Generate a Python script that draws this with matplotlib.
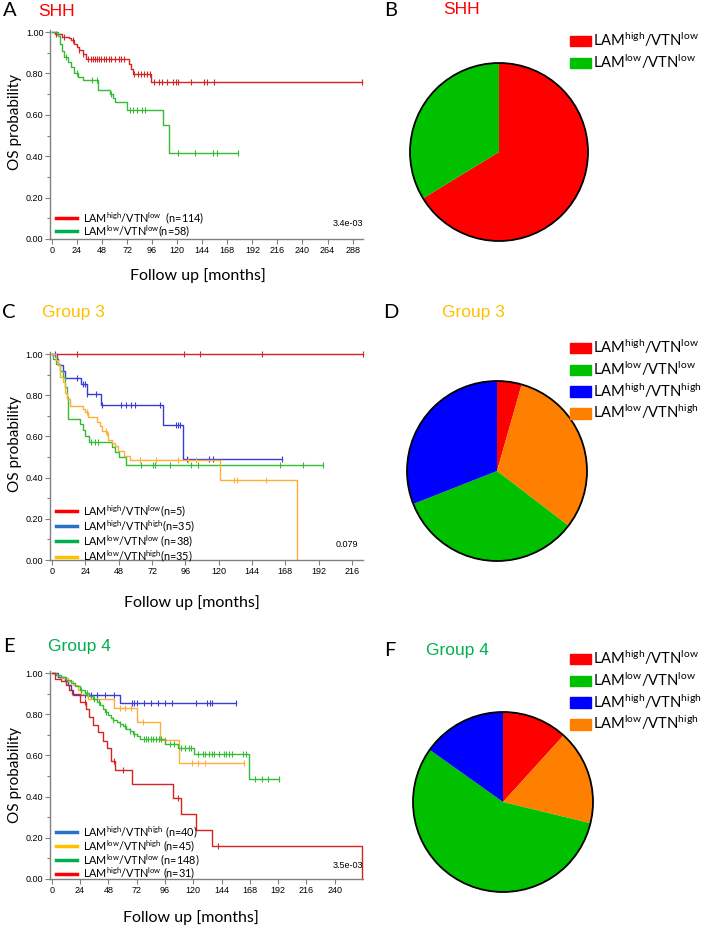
import numpy as np
import matplotlib
matplotlib.use("Agg")
import matplotlib.pyplot as plt
from matplotlib.lines import Line2D
from matplotlib.patches import Patch, Circle

plt.rcParams['mathtext.default'] = 'regular'

W, H = 709, 927
SANS = 'Lato'

# ---------------- data ----------------
# panel A (SHH)
shh_red_t = [3, 10, 16, 18, 21, 23.6, 25.8, 30, 32.6, 73.5, 75.5, 77.2, 94.5]
shh_red_s = [0.99, 0.977, 0.97, 0.96, 0.944, 0.928, 0.912, 0.893, 0.871, 0.845, 0.82, 0.796, 0.758]
shh_red_end = 297
shh_red_cens = [4, 12, 20, 26, 30, 35, 37, 39, 41, 43, 45, 47, 50, 52, 55, 57, 60, 64, 66, 69,
                79, 82, 85, 88, 91, 94, 98, 103, 105, 110, 116, 119, 121, 133, 146, 149, 155, 297]
shh_green_t = [5.5, 8, 10, 12, 15, 18.5, 21.5, 24.5, 29.5, 44.5, 56, 58, 60, 71.5, 106, 112.5]
shh_green_s = [0.98, 0.94, 0.91, 0.88, 0.855, 0.83, 0.80, 0.785, 0.767, 0.72, 0.70, 0.68, 0.662, 0.625, 0.553, 0.415]
shh_green_end = 178.5
shh_green_cens = [13, 24, 38, 43, 57, 75, 78, 81, 86, 89, 121, 137, 154, 158, 178.5]

# panel C (Group 3)
g3_red_t = []
g3_red_s = []
g3_red_end = 224
g3_red_cens = [18, 95, 106.5, 151, 224]
g3_blue_t = [3.5, 4.6, 7.7, 9.4, 20.6, 25, 35.3, 79.7, 94.5]
g3_blue_s = [0.976, 0.947, 0.92, 0.886, 0.857, 0.805, 0.752, 0.657, 0.492]
g3_blue_end = 166
g3_blue_cens = [2, 18, 22, 24, 25, 32, 36, 50, 53, 57, 60, 78, 89, 91, 92, 97, 113, 116, 166]
g3_green_t = [1, 3, 6, 8, 9.5, 10.5, 11.8, 20, 22, 23.5, 26.5, 43.5, 45.5, 48, 53]
g3_green_s = [0.974, 0.95, 0.92, 0.89, 0.84, 0.79, 0.686, 0.66, 0.63, 0.60, 0.575, 0.55, 0.525, 0.50, 0.463]
g3_green_end = 195
g3_green_cens = [28, 31, 33, 64, 73, 74, 85, 100, 105, 164, 181, 195]
g3_orange_t = [2.8, 4.5, 6, 7.7, 9.4, 11, 13, 22, 24, 25.6, 32.2, 34.6, 35.8, 39.4, 40.6, 43,
               45.4, 47.8, 52, 56, 121, 176.5]
g3_orange_s = [0.972, 0.945, 0.89, 0.865, 0.81, 0.78, 0.75, 0.735, 0.72, 0.695, 0.672, 0.65, 0.625,
               0.608, 0.585, 0.57, 0.553, 0.528, 0.505, 0.486, 0.389, 0.0]
g3_orange_end = 176.5
g3_orange_cens = [25, 39, 40, 63, 75, 91, 98, 104, 131, 133, 154]

# panel E (Group 4)
g4_blue_t = [5, 11, 14, 16, 18, 57.5]
g4_blue_s = [0.98, 0.96, 0.94, 0.92, 0.895, 0.856]
g4_blue_end = 156
g4_blue_cens = [28, 33, 38, 45, 53, 68, 70, 72, 78, 84, 90, 96, 102, 122, 132, 134, 136, 156]
g4_orange_t = [4, 8, 14, 18, 22, 25, 30.8, 52.8, 72.4, 92.2, 108]
g4_orange_s = [0.99, 0.975, 0.96, 0.94, 0.92, 0.90, 0.875, 0.832, 0.76, 0.675, 0.565]
g4_orange_end = 163
g4_orange_cens = [58, 62, 67, 77, 96, 119, 124, 130, 163]
g4_green_t = [4, 8, 12, 16, 20, 24, 28, 32, 35, 38, 41, 43.5, 45.5, 47.5, 50, 52, 55, 57.5, 60,
              63, 66, 69, 72, 75, 95.8, 107, 120.5, 167]
g4_green_s = [0.99, 0.98, 0.965, 0.95, 0.935, 0.92, 0.905, 0.89, 0.875, 0.86, 0.845, 0.827, 0.81,
              0.795, 0.78, 0.77, 0.76, 0.753, 0.745, 0.73, 0.72, 0.705, 0.695, 0.68, 0.656, 0.634,
              0.605, 0.485]
g4_green_end = 193
g4_green_cens = [25, 30, 36, 40, 46, 52, 58, 62, 66, 70, 78, 80, 82, 84, 86, 88, 91, 93, 100, 104,
                 110, 113, 116, 118, 124, 128, 130, 133, 136, 138, 142, 146, 148, 150, 153, 162,
                 165, 172, 178, 183, 193]
g4_red_t = [3, 8, 12, 15, 17, 24.3, 28.8, 31.7, 35, 38.8, 43.5, 47, 50.6, 53.4, 68.2, 102.7,
            110, 122, 136, 263.5]
g4_red_s = [0.97, 0.96, 0.94, 0.92, 0.90, 0.86, 0.827, 0.787, 0.746, 0.713, 0.672, 0.635, 0.575,
            0.53, 0.463, 0.395, 0.317, 0.239, 0.158, 0.0]
g4_red_end = 263.5
g4_red_cens = [28, 53, 60, 107, 141]

# group sizes (used for legends and pies)
shh_n = [114, 58]
g3_n = [5, 35, 38, 35]      # hi/lo, hi/hi, lo/lo, lo/hi
g4_n = [40, 45, 148, 31]    # hi/hi, lo/hi, lo/lo, hi/lo

p_values = ['3.4e-03', '0.079', '3.5e-03']

HL = r'LAM$^{high}$/VTN$^{low}$'
LL = r'LAM$^{low}$/VTN$^{low}$'
HH = r'LAM$^{high}$/VTN$^{high}$'
LH = r'LAM$^{low}$/VTN$^{high}$'

# colours
c_red, c_green, c_blue, c_orange = '#D42424', '#35BB35', '#3A3AD8', '#FFAE3A'
l_red, l_green, l_blue, l_orange = '#FF0000', '#00B050', '#2A72C8', '#FFC000'
p_red, p_green, p_blue, p_orange = '#FF0000', '#00C000', '#0000FF', '#FF8000'

fig = plt.figure(figsize=(W / 100, H / 100), dpi=100)


def px_axes(left, top, right, bottom):
    return fig.add_axes([left / W, 1 - bottom / H, (right - left) / W, (bottom - top) / H])


def km(ax, t, s, end, cens, color):
    tt = [0] + list(t) + [end]
    ss = [1.0] + list(s) + [s[-1] if len(s) else 1.0]
    ax.step(tt, ss, where='post', color=color, lw=1.0, clip_on=False)
    tt = np.array(tt)
    ss = np.array(ss)
    idx = np.searchsorted(tt, cens, side='right') - 1
    ax.plot(cens, ss[idx], ls='none', marker='|', ms=4, mew=0.8, color=color, clip_on=False)


def style_km(ax, xmax, xticks):
    ax.set_xlim(-1.5, xmax)
    ax.set_ylim(0, 1.01)
    for sp in ['top', 'right']:
        ax.spines[sp].set_visible(False)
    for sp in ['left', 'bottom']:
        ax.spines[sp].set_color('#808080')
        ax.spines[sp].set_linewidth(1.0)
    ax.set_xticks(xticks)
    ax.set_yticks([0, 0.2, 0.4, 0.6, 0.8, 1.0])
    ax.set_yticks([0.1, 0.3, 0.5, 0.7, 0.9], minor=True)
    ax.set_yticklabels(['%.2f' % v for v in [0, 0.2, 0.4, 0.6, 0.8, 1.0]])
    ax.tick_params(which='both', color='#808080', width=0.8, labelsize=6.5, pad=1.5)
    ax.tick_params(which='major', length=3.5)
    ax.tick_params(which='minor', length=2.5)
    for lab in ax.get_xticklabels() + ax.get_yticklabels():
        lab.set_family('Liberation Sans')


def km_legend(ax, items, top, spacing):
    handles = [Line2D([], [], color=c, lw=2.5) for c, _ in items]
    labels = [lab for _, lab in items]
    ax.legend(handles, labels, loc='upper left', bbox_to_anchor=(56 / W, 1 - top / H),
              bbox_transform=fig.transFigure, frameon=False, borderpad=0, borderaxespad=0,
              handlelength=1.95, handletextpad=0.55, labelspacing=spacing,
              prop={'family': SANS, 'size': 7.8})


def titles(letter, lx, name, nx, y, color):
    fig.text(lx / W, 1 - y / H, letter, family=SANS, fontsize=14.5, va='center', ha='left')
    fig.text(nx / W, 1 - y / H, name, family='Liberation Sans', fontsize=12.5, va='center',
             ha='left', color=color)


def ylab(y):
    fig.text(15 / W, 1 - y / H, 'OS probability', rotation=90, family=SANS, fontsize=11,
             va='center', ha='center')


def xlab(x, y):
    fig.text(x / W, 1 - y / H, 'Follow up [months]', family=SANS, fontsize=11.5,
             va='center', ha='center')


# ---------------- A ----------------
axA = px_axes(50.4, 30, 363, 239)
km(axA, shh_red_t, shh_red_s, shh_red_end, shh_red_cens, c_red)
km(axA, shh_green_t, shh_green_s, shh_green_end, shh_green_cens, c_green)
style_km(axA, 298, np.arange(0, 289, 24))
km_legend(axA, [(l_red, HL + '  (n=%d)' % shh_n[0]), (l_green, LL + '(n=%d)' % shh_n[1])], 210, -0.27)
axA.text(1.0, 0.075, p_values[0], transform=axA.transAxes, ha='right', va='center',
         family='Liberation Sans', fontsize=6.5)
titles('A', 3, 'SHH', 38, 11, '#FF0000')
ylab(122)
xlab(198, 276)

# ---------------- C ----------------
axC = px_axes(50, 352, 363, 560)
km(axC, g3_red_t, g3_red_s, g3_red_end, g3_red_cens, c_red)
km(axC, g3_blue_t, g3_blue_s, g3_blue_end, g3_blue_cens, c_blue)
km(axC, g3_green_t, g3_green_s, g3_green_end, g3_green_cens, c_green)
km(axC, g3_orange_t, g3_orange_s, g3_orange_end, g3_orange_cens, c_orange)
style_km(axC, 224, np.arange(0, 217, 24))
km_legend(axC, [(l_red, HL + '(n=%d)' % g3_n[0]), (l_blue, HH + '(n=%d)' % g3_n[1]),
                (l_green, LL + ' (n=%d)' % g3_n[2]), (l_orange, LH + '(n=%d)' % g3_n[3])], 503, -0.08)
axC.text(0.985, 0.075, p_values[1], transform=axC.transAxes, ha='right', va='center',
         family='Liberation Sans', fontsize=6.5)
titles('C', 2, 'Group 3', 42, 313, '#FFC000')
ylab(444)
xlab(192, 603)

# ---------------- E ----------------
axE = px_axes(50, 671, 363, 879)
km(axE, g4_blue_t, g4_blue_s, g4_blue_end, g4_blue_cens, c_blue)
km(axE, g4_orange_t, g4_orange_s, g4_orange_end, g4_orange_cens, c_orange)
km(axE, g4_green_t, g4_green_s, g4_green_end, g4_green_cens, c_green)
km(axE, g4_red_t, g4_red_s, g4_red_end, g4_red_cens, c_red)
style_km(axE, 264, np.arange(0, 241, 24))
km_legend(axE, [(l_blue, HH + ' (n=%d)' % g4_n[0]), (l_orange, LH + ' (n=%d)' % g4_n[1]),
                (l_green, LL + ' (n=%d)' % g4_n[2]), (l_red, HL + ' (n=%d)' % g4_n[3])], 824, -0.19)
axE.text(1.0, 0.065, p_values[2], transform=axE.transAxes, ha='right', va='center',
         family='Liberation Sans', fontsize=6.5)
titles('E', 3, 'Group 4', 48, 647, '#00B050')
ylab(775)
xlab(191, 918)


# ---------------- pies ----------------
def pie(cx, cy, r, sizes, colors):
    ax = px_axes(cx - r - 2, cy - r - 2, cx + r + 2, cy + r + 2)
    ax.pie(sizes, colors=colors, startangle=90, counterclock=False, radius=1,
           wedgeprops={'linewidth': 0})
    ax.add_patch(Circle((0, 0), 1, fill=False, ec='black', lw=1.3))
    lim = 1 + 2.0 / r
    ax.set_xlim(-lim, lim)
    ax.set_ylim(-lim, lim)
    ax.set_aspect('equal')
    ax.axis('off')
    return ax


def pie_legend(ax, items, top):
    handles = [Patch(color=c) for c, _ in items]
    labels = [lab for _, lab in items]
    ax.legend(handles, labels, loc='upper left', bbox_to_anchor=(570 / W, 1 - top / H),
              bbox_transform=fig.transFigure, frameon=False, borderpad=0, borderaxespad=0,
              handlelength=1.4, handleheight=0.73, handletextpad=0.15, labelspacing=0.23,
              prop={'family': SANS, 'size': 10.6})


# B: clockwise from top -> high/low, low/low
axB = pie(499, 152, 89, shh_n, [p_red, p_green])
pie_legend(axB, [(p_red, HL), (p_green, LL)], 31)
titles('B', 384, 'SHH', 443, 10, '#FF0000')

# D: clockwise from top -> hi/lo, lo/hi, lo/lo, hi/hi
axD = pie(497, 471, 90, [g3_n[0], g3_n[3], g3_n[2], g3_n[1]], [p_red, p_orange, p_green, p_blue])
pie_legend(axD, [(p_red, HL), (p_green, LL), (p_blue, HH), (p_orange, LH)], 338)
titles('D', 383, 'Group 3', 442, 313, '#FFC000')

# F: clockwise from top -> hi/lo, lo/hi, lo/lo, hi/hi
axF = pie(503, 802, 90, [g4_n[3], g4_n[1], g4_n[2], g4_n[0]], [p_red, p_orange, p_green, p_blue])
pie_legend(axF, [(p_red, HL), (p_green, LL), (p_blue, HH), (p_orange, LH)], 649)
titles('F', 384, 'Group 4', 426, 650, '#00B050')

fig.savefig('out.png', dpi=100)
